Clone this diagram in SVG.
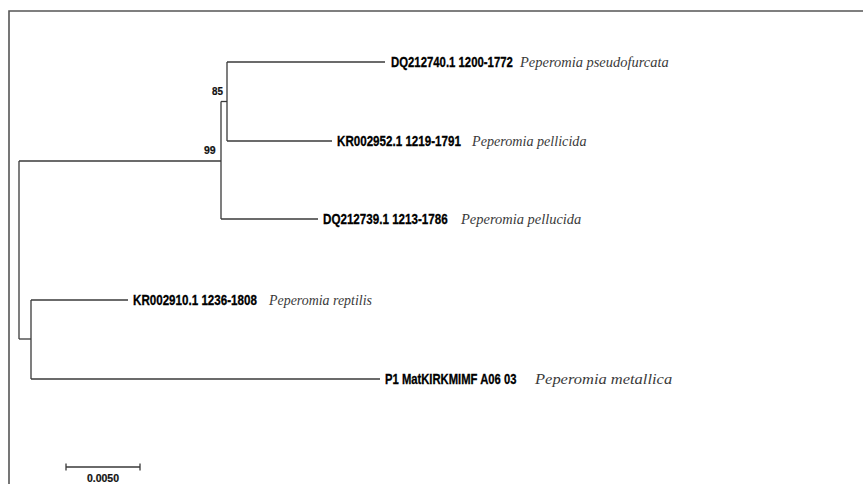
<svg xmlns="http://www.w3.org/2000/svg" width="863" height="484" viewBox="0 0 863 484">
<style>
.br{fill:none;stroke:#3a3a3a;stroke-width:1.3}
.frame{fill:none;stroke:#555;stroke-width:1.6}
.acc{font-family:"Liberation Sans",Arial,sans-serif;font-weight:bold;font-size:14.5px;fill:#000;stroke:#000;stroke-width:0.3}
.sp{font-family:"Liberation Serif","Times New Roman",serif;font-style:italic;font-size:15px;fill:#3a3a3a}
.bs{font-family:"Liberation Sans",Arial,sans-serif;font-weight:bold;font-size:10.5px;fill:#111;stroke:#111;stroke-width:0.2}
</style>
<rect width="863" height="484" fill="#fff"/>
<path class="frame" d="M9,484 V11 H863"/>
<g id="connectors">
<path class="br" d="M19,161 V339"/>
<path class="br" d="M19,161 H221"/>
<path class="br" d="M221,101.5 V219"/>
<path class="br" d="M221,101.5 H227"/>
<path class="br" d="M227,62 V141"/>
<path class="br" d="M227,62 H385"/>
<path class="br" d="M227,141 H332"/>
<path class="br" d="M221,219 H318"/>
<path class="br" d="M19,339 H31"/>
<path class="br" d="M31,300 V379"/>
<path class="br" d="M31,300 H128"/>
<path class="br" d="M31,379 H380"/>
</g>
<g id="n85"><text class="bs" transform="translate(212,95) scale(0.94,1)">85</text></g>
<g id="n99"><text class="bs" transform="translate(204,154) scale(1,1)">99</text></g>
<g id="t1">
<text class="acc" transform="translate(391,67) scale(0.784,1)">DQ212740.1 1200-1772</text>
<text class="sp" transform="translate(520,67) scale(0.965,1)">Peperomia pseudofurcata</text>
</g>
<g id="t2">
<text class="acc" transform="translate(337,146) scale(0.801,1)">KR002952.1 1219-1791</text>
<text class="sp" transform="translate(472,146) scale(0.943,1)">Peperomia pellicida</text>
</g>
<g id="t3">
<text class="acc" transform="translate(323,224) scale(0.803,1)">DQ212739.1 1213-1786</text>
<text class="sp" transform="translate(461,224) scale(0.965,1)">Peperomia pellucida</text>
</g>
<g id="t4">
<text class="acc" transform="translate(133,305) scale(0.801,1)">KR002910.1 1236-1808</text>
<text class="sp" transform="translate(269,305) scale(0.928,1)">Peperomia reptilis</text>
</g>
<g id="t5">
<text class="acc" transform="translate(385,384) scale(0.776,1)">P1 MatKIRKMIMF A06 03</text>
<text class="sp" font-size="16" transform="translate(535,384) scale(1.1,1)">Peperomia metallica</text>
</g>
<g id="scale">
<path class="br" d="M66,467 H140 M66,463.5 V470.5 M140,463.5 V470.5"/>
<text class="bs" x="103" y="482" text-anchor="middle" font-size="9">0.0050</text>
</g>
</svg>
